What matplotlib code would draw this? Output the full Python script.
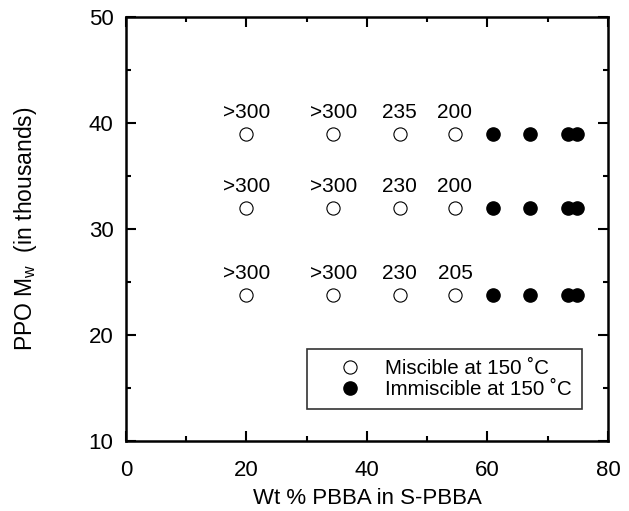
import matplotlib.pyplot as plt
from matplotlib.ticker import MultipleLocator

plt.rcParams['font.family'] = ['Liberation Sans', 'DejaVu Sans']

# compositions (wt % PBBA) and PPO molecular weights (thousands)
miscible_x = [20, 34.4, 45.4, 54.6]
immiscible_x = [60.9, 67.0, 73.3, 74.9]
mw_rows = [39, 32, 23.8]
# cloud point labels per row, matching miscible_x
row_labels = [
    [">300", ">300", "235", "200"],
    [">300", ">300", "230", "200"],
    [">300", ">300", "230", "205"],
]

fig = plt.figure(figsize=(6.29, 5.11), dpi=100)
ax = fig.add_axes([0.2003, 0.137, 0.7663, 0.8297])

for i, y in enumerate(mw_rows):
    ax.plot(miscible_x, [y] * len(miscible_x), 'o', ms=9.5, mfc='white',
            mec='black', mew=0.8, ls='none',
            label='Miscible at 150 ˚C' if i == 0 else None)
    ax.plot(immiscible_x, [y] * len(immiscible_x), 'o', ms=9.5, mfc='black',
            mec='black', ls='none',
            label='Immiscible at 150 ˚C' if i == 0 else None)
    for x, lab in zip(miscible_x, row_labels[i]):
        ax.annotate(lab, (x, y), xytext=(0, 8.5), textcoords='offset points',
                    ha='center', va='bottom', fontsize=15)

ax.set_xlim(0, 80)
ax.set_ylim(10, 50)
ax.xaxis.set_major_locator(MultipleLocator(20))
ax.xaxis.set_minor_locator(MultipleLocator(10))
ax.yaxis.set_major_locator(MultipleLocator(10))
ax.yaxis.set_minor_locator(MultipleLocator(5))
ax.tick_params(which='both', direction='in', top=True, right=True,
               labelsize=16, width=1.5)
ax.tick_params(axis='x', pad=14)
ax.tick_params(axis='y', pad=9)
ax.tick_params(which='major', length=7.5)
ax.tick_params(which='minor', length=3.5)
for s in ax.spines.values():
    s.set_linewidth(1.8)

ax.set_xlabel('Wt % PBBA in S-PBBA', fontsize=16, labelpad=5)
ax.set_ylabel('PPO M$_\\mathregular{w}$  (in thousands)', fontsize=16.5, labelpad=36)

leg = ax.legend(loc='upper left', bbox_to_anchor=(0.376, 0.217),
                fontsize=14.8, frameon=True, fancybox=False,
                edgecolor='black', handletextpad=0.1,
                borderpad=0.48, labelspacing=0.1, handlelength=3.2,
                borderaxespad=0)
leg.get_frame().set_linewidth(1.2)

fig.savefig('out.png', dpi=100)
